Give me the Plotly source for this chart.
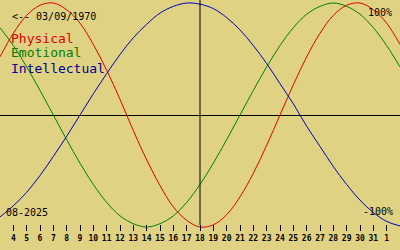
import plotly.graph_objects as go

# Days of the month shown (August 2025; 32, 33 = 1, 2 September)
days = list(range(3, 34))
physical = [0.52, 0.73, 0.89, 0.98, 1.00, 0.94, 0.82, 0.63, 0.40, 0.14,
            -0.14, -0.40, -0.63, -0.82, -0.94, -1.00, -0.98, -0.89, -0.73, -0.52,
            -0.27, 0.00, 0.27, 0.52, 0.73, 0.89, 0.98, 1.00, 0.94, 0.82, 0.63]
emotional = [0.78, 0.62, 0.43, 0.22, 0.00, -0.22, -0.43, -0.62, -0.78, -0.90,
             -0.97, -1.00, -0.97, -0.90, -0.78, -0.62, -0.43, -0.22, 0.00, 0.22,
             0.43, 0.62, 0.78, 0.90, 0.97, 1.00, 0.97, 0.90, 0.78, 0.62, 0.43]
intellectual = [-0.91, -0.81, -0.69, -0.54, -0.37, -0.19, 0.00, 0.19, 0.37, 0.54,
                0.69, 0.81, 0.91, 0.97, 1.00, 0.99, 0.95, 0.87, 0.76, 0.62,
                0.46, 0.28, 0.10, -0.10, -0.28, -0.46, -0.62, -0.76, -0.87, -0.95, -0.99]

tick_days = list(range(4, 33))
tick_labels = ["<b>%d</b>" % d for d in range(4, 32)] + ["<b>1</b>"]
today = 18
birth_label = "<-- 03/09/1970"
month_label = "08-2025"

BG = "#e0d283"
RED = "#e00000"
GREEN = "#008000"
BLUE = "#0000c0"
MONO = "DejaVu Sans Mono"

fig = go.Figure()
for name, vals, col in [("Physical", physical, RED),
                        ("Emotional", emotional, GREEN),
                        ("Intellectual", intellectual, BLUE)]:
    fig.add_trace(go.Scatter(x=days, y=vals, mode="lines", name=name,
                             line=dict(color=col, width=1, shape="spline"),
                             hoverinfo="skip"))

fig.add_shape(type="line", xref="x", yref="paper", x0=today, x1=today,
              y0=0.1, y1=1, line=dict(color="black", width=1))

ann = []
ann.append(dict(text=birth_label, x=10, y=16.5, color="black", size=10, anchor="left"))
ann.append(dict(text="Physical", x=9, y=38, color=RED, size=13, anchor="left"))
ann.append(dict(text="Emotional", x=9, y=53, color=GREEN, size=13, anchor="left"))
ann.append(dict(text="Intellectual", x=9, y=68, color="#000090", size=13, anchor="left"))
ann.append(dict(text="100%", x=394, y=12, color="black", size=10, anchor="right"))
ann.append(dict(text="-100%", x=395, y=211.5, color="black", size=10, anchor="right"))
ann.append(dict(text=month_label, x=4, y=212, color="black", size=10, anchor="left"))
for a in ann:
    fig.add_annotation(text=a["text"], xref="paper", yref="paper",
                       x=a["x"] / 400, y=1 - a["y"] / 250,
                       xanchor=a["anchor"], yanchor="middle", showarrow=False,
                       font=dict(family=MONO, size=a["size"], color=a["color"]))

fig.update_layout(
    width=400, height=250, margin=dict(l=0, r=0, t=0, b=0),
    paper_bgcolor=BG, plot_bgcolor=BG, showlegend=False,
    xaxis=dict(range=[3, 33], anchor="free", position=0.076, showgrid=False,
               zeroline=False, showline=False, ticks="inside", ticklen=6,
               tickcolor="black", tickwidth=1, tickvals=tick_days,
               ticktext=tick_labels, ticklabelstandoff=1,
               tickfont=dict(family=MONO, size=8, color="black")),
    yaxis=dict(range=[-1.205, 1.027], showgrid=False, showticklabels=False,
               zeroline=True, zerolinecolor="black", zerolinewidth=1,
               showline=False, ticks=""),
)
fig.write_html("out.html")
